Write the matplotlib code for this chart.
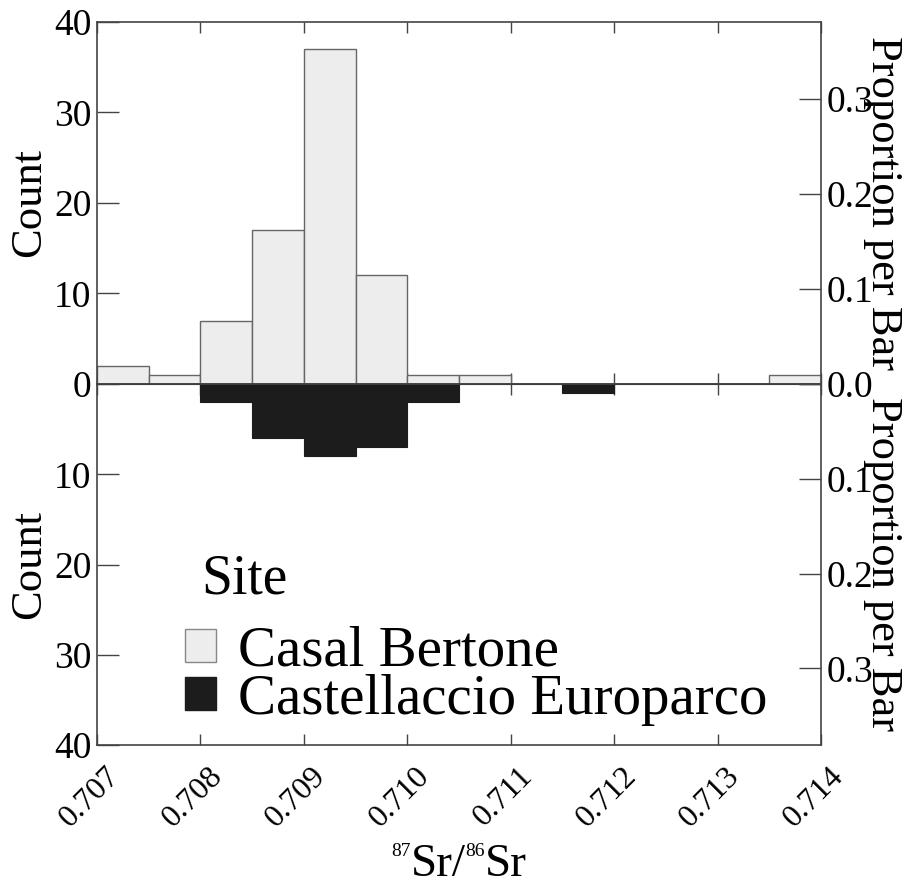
import matplotlib
matplotlib.use("Agg")
import matplotlib.pyplot as plt
import matplotlib.transforms as mtransforms
from matplotlib.patches import Patch
import numpy as np

plt.rcParams['font.family'] = ['Liberation Serif', 'DejaVu Serif']

# ---- data ----
bin_edges = [0.7070, 0.7075, 0.7080, 0.7085, 0.7090, 0.7095, 0.7100, 0.7105,
             0.7110, 0.7115, 0.7120, 0.7125, 0.7130, 0.7135, 0.7140]
casal_bertone = [2, 1, 7, 17, 37, 12, 1, 1, 0, 0, 0, 0, 0, 1]
castellaccio = [0, 0, 2, 6, 8, 7, 2, 0, 0, 1, 0, 0, 0, 0]
x_ticks = [0.707, 0.708, 0.709, 0.710, 0.711, 0.712, 0.713, 0.714]
x_ticklabels = ["0.707", "0.708", "0.709", "0.710", "0.711", "0.712", "0.713", "0.714"]
count_ticks = [0, 10, 20, 30, 40]
prop_ticks = [0.0, 0.1, 0.2, 0.3]
site_names = ["Casal Bertone", "Castellaccio Europarco"]
xlabel_parts = [("87", True), ("Sr/", False), ("86", True), ("Sr", False)]

N_total = sum(casal_bertone) + sum(castellaccio)

light = '#ededed'
dark = '#1c1c1c'
spine_col = '#444444'

W, H = 917, 882
fig = plt.figure(figsize=(W / 100, H / 100), dpi=100)

left = 97 / W
right = 821 / W
y0 = 1 - 384 / H
ytop = 1 - 21.7 / H
ybot = 1 - 745 / H

ax_top = fig.add_axes([left, y0, right - left, ytop - y0])
ax_bot = fig.add_axes([left, ybot, right - left, y0 - ybot], sharex=ax_top)

edges = np.array(bin_edges)
widths = np.diff(edges)

ax_top.bar(edges[:-1], casal_bertone, width=widths, align='edge',
           color=light, edgecolor='#666666', linewidth=1.0, zorder=2)
ax_bot.bar(edges[:-1], castellaccio, width=widths, align='edge',
           color=dark, edgecolor=dark, linewidth=0.8, zorder=2)

ax_top.set_xlim(0.707, 0.714)
ax_top.set_ylim(0, 40)
ax_bot.set_ylim(40, 0)

for ax in (ax_top, ax_bot):
    for s in ax.spines.values():
        s.set_color(spine_col)
        s.set_linewidth(1.2)
    ax.set_yticks(count_ticks)
    ax.tick_params(axis='y', direction='in', length=16, width=1.0,
                   color=spine_col, labelsize=27, pad=4)
    ax.tick_params(axis='x', direction='in', length=8, width=1.0,
                   color=spine_col, top=True, bottom=True)
    ax.set_ylabel("Count", fontsize=32)
    ax.yaxis.label.set_ha('center')
    ax.yaxis.label.set_va('center')
    ax.yaxis.set_label_coords(-0.094, 0.5)

ax_top.set_xticks(x_ticks)
ax_top.tick_params(axis='x', labelbottom=False)
ax_bot.set_yticks(count_ticks)
ax_bot.set_yticklabels([""] + [str(t) for t in count_ticks[1:]])

ax_bot.set_xticks(x_ticks)
ax_bot.set_xticklabels(x_ticklabels, fontsize=23, rotation=45,
                       ha='right', va='center', rotation_mode='anchor')
ax_bot.tick_params(axis='x', pad=19)
offset = mtransforms.ScaledTranslation(18 / 100, 0, fig.dpi_scale_trans)
for lbl in ax_bot.get_xticklabels():
    lbl.set_transform(lbl.get_transform() + offset)

# right proportion axes
for ax, inv in ((ax_top, False), (ax_bot, True)):
    tw = ax.twinx()
    lim = 40 / N_total
    if inv:
        tw.set_ylim(lim, 0)
    else:
        tw.set_ylim(0, lim)
    tw.set_yticks(prop_ticks)
    labels = ["%.1f" % p for p in prop_ticks]
    if inv:
        labels[0] = ""
    tw.set_yticklabels(labels)
    tw.tick_params(axis='y', direction='in', length=16, width=1.0,
                   color=spine_col, labelsize=27, pad=4)
    for s in tw.spines.values():
        s.set_visible(False)
    tw.set_ylabel("Proportion per Bar", fontsize=32, rotation=270)
    tw.yaxis.label.set_ha('center')
    tw.yaxis.label.set_va('center')
    tw.yaxis.set_label_coords(1.086, 0.5)

handles = [Patch(facecolor=light, edgecolor='#888888', linewidth=1.0),
           Patch(facecolor=dark, edgecolor=dark)]
leg = ax_bot.legend(handles, site_names, title="Site", frameon=False,
                    loc='upper left',
                    bbox_to_anchor=(157 / W, 1 - 549 / H),
                    bbox_transform=fig.transFigure,
                    prop={'size': 41}, title_fontsize=40,
                    handlelength=0.53, handleheight=0.53,
                    handletextpad=0.4, labelspacing=-0.07,
                    borderpad=0, alignment='left')
ttl = leg.get_title()
ttl.set_transform(ttl.get_transform() +
                  mtransforms.ScaledTranslation(16 / 100, 24 / 100, fig.dpi_scale_trans))

# x label: 87Sr/86Sr with small superscripts, composed piecewise
renderer = fig.canvas.get_renderer()
big, small = 34, 14
raise_px = 20
baseline_y = 1 - 876 / H
center_x = (97 + 821) / 2 / W
pieces = []
for txt, sup in xlabel_parts:
    t = fig.text(0, baseline_y, txt, fontsize=small if sup else big,
                 va='baseline', ha='left')
    pieces.append((t, sup))
widths_px = [t.get_window_extent(renderer).width for t, _ in pieces]
total = sum(widths_px)
x = center_x * W - total / 2
for (t, sup), w in zip(pieces, widths_px):
    yy = baseline_y + (raise_px / H if sup else 0)
    t.set_position((x / W, yy))
    x += w

fig.savefig("out.png", dpi=100)
